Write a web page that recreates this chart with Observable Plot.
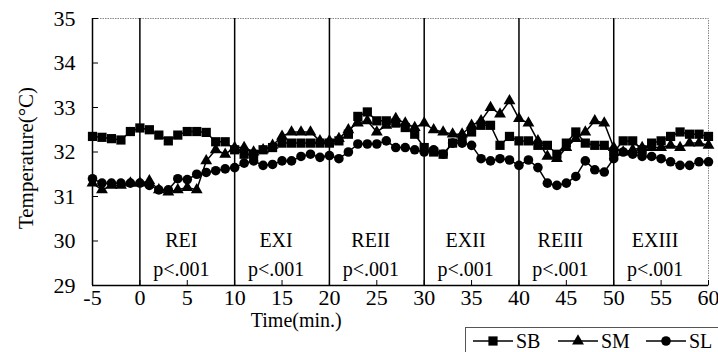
<!DOCTYPE html>
<html><head><meta charset="utf-8">
<script src="https://cdn.jsdelivr.net/npm/d3@7"></script>
<script src="https://cdn.jsdelivr.net/npm/@observablehq/plot@0.6"></script>
<style>
body{margin:0;background:#fff;overflow:hidden;width:718px;height:352px;position:relative;font-family:"Liberation Serif","Times New Roman",serif;}
#chart{position:absolute;left:0;top:0}
#legend{position:absolute;left:465px;top:327px;width:270px;height:32px;border:1px solid #555;box-sizing:border-box;background:#fff}
</style></head><body><div id="chart"></div><div id="legend"></div>
<script>
const minutes = [-5,-4,-3,-2,-1,0,1,2,3,4,5,6,7,8,9,10,11,12,13,14,15,16,17,18,19,20,21,22,23,24,25,26,27,28,29,30,31,32,33,34,35,36,37,38,39,40,41,42,43,44,45,46,47,48,49,50,51,52,53,54,55,56,57,58,59,60];
const SB = [32.35,32.33,32.3,32.27,32.46,32.54,32.5,32.38,32.25,32.38,32.46,32.46,32.44,32.23,32.23,32.05,31.95,31.95,32.05,32.1,32.2,32.2,32.2,32.2,32.2,32.2,32.25,32.4,32.8,32.9,32.7,32.7,32.65,32.55,32.4,32.1,32.0,31.95,32.2,32.3,32.45,32.6,32.6,32.15,32.35,32.25,32.25,32.15,32.15,31.95,32.2,32.45,32.2,32.15,32.15,32.0,32.25,32.25,32.05,32.2,32.25,32.35,32.45,32.4,32.4,32.35];
const SM = [31.3,31.15,31.25,31.25,31.3,31.3,31.35,31.15,31.1,31.15,31.2,31.15,31.8,32.05,31.95,32.1,32.1,32.0,32.05,32.15,32.35,32.45,32.45,32.45,32.25,32.25,32.3,32.5,32.65,32.7,32.45,32.6,32.75,32.65,32.55,32.65,32.5,32.45,32.4,32.4,32.6,32.7,33.0,32.85,33.15,32.75,32.65,32.25,31.9,31.85,32.1,32.3,32.45,32.7,32.65,32.1,32.0,32.05,32.1,32.1,32.1,32.15,32.1,32.2,32.2,32.15];
const SL = [31.4,31.3,31.3,31.3,31.3,31.3,31.25,31.15,31.15,31.4,31.38,31.5,31.54,31.58,31.62,31.65,31.75,31.8,31.7,31.72,31.8,31.8,31.9,31.95,31.88,31.92,31.85,32.0,32.18,32.18,32.18,32.25,32.1,32.1,32.05,32.0,32.05,31.95,32.2,32.2,32.15,31.85,31.8,31.85,31.82,31.7,31.82,31.65,31.3,31.25,31.3,31.45,31.8,31.6,31.55,31.85,32.0,31.95,31.9,31.9,31.85,31.78,31.7,31.7,31.78,31.78];
const seriesNames = ["SB","SM","SL"];
const seriesSymbols = ["square","triangle","circle"];
const phaseStarts = [0,10,20,30,40,50];
const phaseNames = ["REI","EXI","REII","EXII","REIII","EXIII"];
const phaseP = ["p<.001","p<.001","p<.001","p<.001","p<.001","p<.001"];
const xTicks = [-5,0,5,10,15,20,25,30,35,40,45,50,55,60];
const yTicks = [29,30,31,32,33,34,35];
const yTitle = "Temperature(°C)";
const xTitle = "Time(min.)";

const seriesVals = [SB, SM, SL];
const rows = [];
seriesNames.forEach((s, k) => seriesVals[k].forEach((v, i) => rows.push({t: minutes[i], s, v})));
const phases = phaseStarts.map((st, i) => ({mid: st + 5, name: phaseNames[i], p: phaseP[i]}));
const radii = {square: 5.2, triangle: 4.4, circle: 4.8};

const plot = Plot.plot({
  width: 718, height: 352,
  marginTop: 18, marginBottom: 67, marginLeft: 92, marginRight: 10,
  style: {fontFamily: "Liberation Serif", fontSize: "22px", background: "#fff", color: "#000"},
  x: {domain: [-5, 60]},
  y: {domain: [29, 35]},
  marks: [
    Plot.frame({stroke: "#888", strokeDasharray: "1.5 1"}),
    Plot.ruleX([-5], {stroke: "#000", strokeWidth: 1.5}),
    Plot.ruleY([29], {stroke: "#000", strokeWidth: 1.5}),
    Plot.ruleX(phaseStarts, {stroke: "#000", strokeWidth: 1.5}),
    Plot.axisX({ticks: xTicks, tickSize: -5, tickPadding: 9, tickFormat: d => String(d), label: null, fontSize: 22}),
    Plot.axisY({ticks: yTicks, tickSize: -6, tickPadding: 23, tickFormat: d => String(d), label: null, fontSize: 22}),
    Plot.text([yTitle], {frameAnchor: "left", textAnchor: "middle", lineAnchor: "middle", text: d => d, rotate: -90, dx: -66, dy: 6, fontSize: 21}),
    Plot.lineY(rows, {x: "t", y: "v", z: "s", stroke: "#000", strokeWidth: 1.5}),
    ...seriesNames.map((s, k) => Plot.dot(rows.filter(d => d.s === s), {x: "t", y: "v", symbol: seriesSymbols[k], r: radii[seriesSymbols[k]], fill: "#000", stroke: "none"})),
    Plot.text(phases, {x: "mid", y: 30.0, text: "name", fontSize: 20, dx: -6}),
    Plot.text(phases, {x: "mid", y: 29.35, text: "p", fontSize: 20, dx: -6}),
    Plot.text([xTitle], {frameAnchor: "bottom", lineAnchor: "middle", x: 16.5, text: d => d, dy: 35, fontSize: 20})
  ]
});
document.getElementById("chart").appendChild(plot);

// legend
const lg = d3.select("#legend").append("svg").attr("width", 270).attr("height", 30)
  .style("font-family", "Liberation Serif").style("font-size", "20px");
const legendX = [7, 92, 180];
seriesNames.forEach((s, k) => {
  const x0 = legendX[k], cy = 13;
  lg.append("line").attr("x1", x0).attr("x2", x0 + 40).attr("y1", cy).attr("y2", cy).attr("stroke", "#000").attr("stroke-width", 1.5);
  const sym = {square: d3.symbolSquare, triangle: d3.symbolTriangle, circle: d3.symbolCircle}[seriesSymbols[k]];
  const r = radii[seriesSymbols[k]];
  lg.append("path").attr("d", d3.symbol(sym, Math.PI * r * r)()).attr("transform", `translate(${x0 + 20},${cy})`).attr("fill", "#000");
  lg.append("text").attr("x", x0 + 43).attr("y", cy).attr("dy", "0.35em").text(s);
});
</script></body></html>
